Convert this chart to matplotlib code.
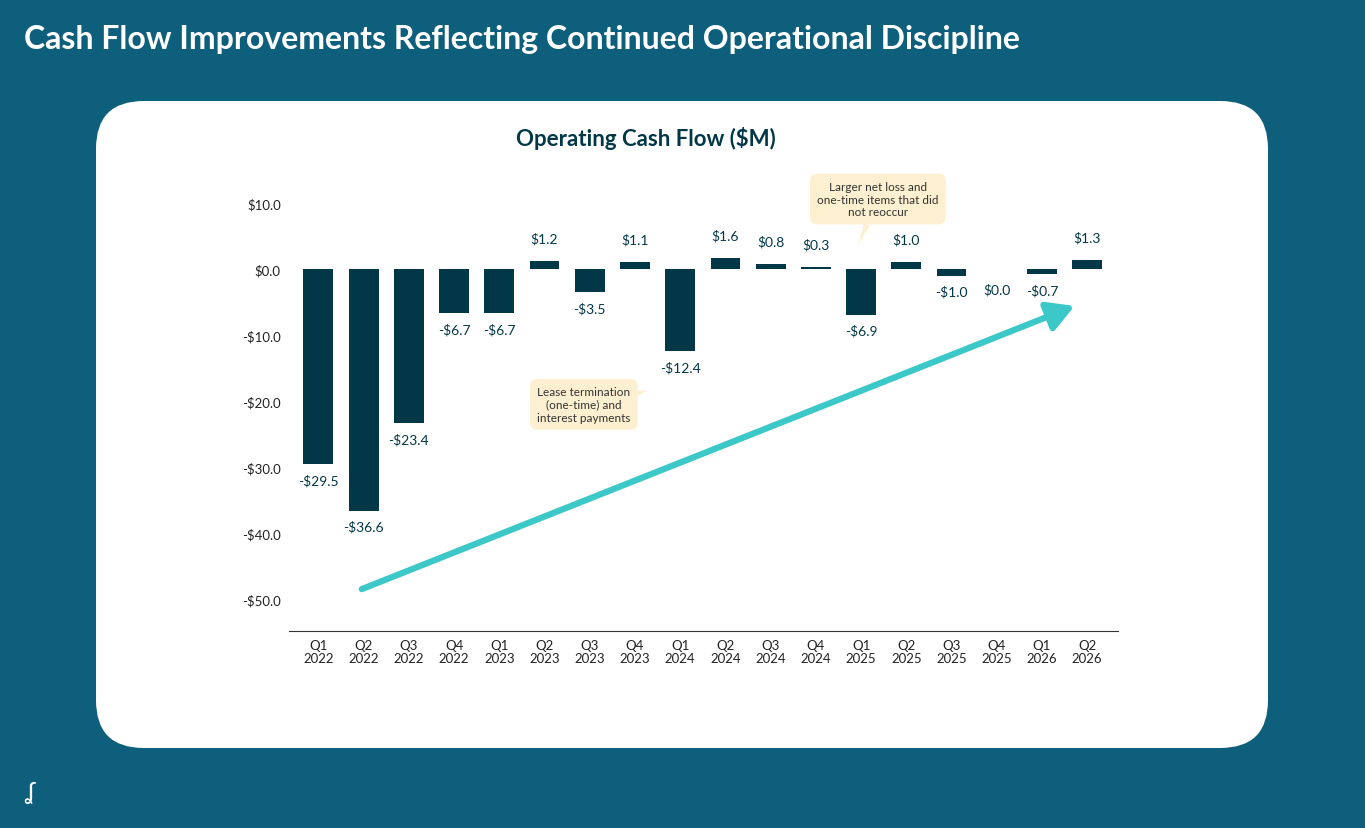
import matplotlib.pyplot as plt
from matplotlib.patches import FancyBboxPatch

quarters = ["Q1\n2022", "Q2\n2022", "Q3\n2022", "Q4\n2022", "Q1\n2023", "Q2\n2023",
            "Q3\n2023", "Q4\n2023", "Q1\n2024", "Q2\n2024", "Q3\n2024", "Q4\n2024",
            "Q1\n2025", "Q2\n2025", "Q3\n2025", "Q4\n2025", "Q1\n2026", "Q2\n2026"]
values = [-29.5, -36.6, -23.4, -6.7, -6.7, 1.2, -3.5, 1.1, -12.4, 1.6, 0.8, 0.3,
          -6.9, 1.0, -1.0, 0.0, -0.7, 1.3]
yticks = [10, 0, -10, -20, -30, -40, -50]

bg = "#0e5f7b"
dark = "#023747"
plt.rcParams['font.family'] = ['Lato', 'DejaVu Sans']

fig = plt.figure(figsize=(13.65, 8.29), dpi=100, facecolor=bg)
fig.text(24/1365, 1 - 40/829, "Cash Flow Improvements Reflecting Continued Operational Discipline",
         color="white", fontsize=23, fontweight="bold", va="center")
card = FancyBboxPatch((96/1365, 1 - 749/829), (1268-96)/1365, (749-102)/829,
                      boxstyle="round,pad=0,rounding_size=0.035", transform=fig.transFigure,
                      facecolor="white", edgecolor="none", mutation_aspect=1365/829, zorder=-5)
fig.patches.append(card)
fig.text(646/1365, 1 - 138/829, "Operating Cash Flow ($M)", color=dark, fontsize=16,
         fontweight="bold", ha="center", va="center")
fig.text(30/1365, 1 - 793/829, "ʆ", color="white", fontsize=18, ha="center", va="center")

# axes: y=0 at px 270, 6.6 px per unit
ylo, yhi = -54.85, 15
ax = fig.add_axes([289/1365, 1 - 632/829, (1118-289)/1365, (yhi - ylo) * 6.6 / 829])
ax.set_facecolor("none")
x = list(range(len(values)))
ax.bar(x, values, width=0.66, color=dark)
ax.set_xlim(-0.65, 17.68)
ax.set_ylim(ylo, yhi)
ax.set_xticks(x)
ax.set_xticklabels(quarters, fontsize=9.5, color="#222222", linespacing=1.1)
ax.set_yticks(yticks)
ax.set_yticklabels(["$%.1f" % v if v >= 0 else "-$%.1f" % -v for v in yticks],
                   fontsize=9.5, color="#222222")
ax.tick_params(length=0, pad=6)
for s in ["top", "right", "left"]:
    ax.spines[s].set_visible(False)
ax.spines["bottom"].set_color("#333333")

for xi, v in zip(x, values):
    lab = "$%.1f" % v if v >= 0 else "-$%.1f" % -v
    if v > 0 or (v == 0):
        y = v + 2.5 if v > 0 else -3
        ax.text(xi, y, lab, ha="center", va="bottom" if v > 0 else "center",
                fontsize=10, color=dark)
    else:
        ax.text(xi, v - 1.5, lab, ha="center", va="top", fontsize=10, color=dark)

ax.annotate("", xy=(16.72, -5.6), xytext=(0.96, -48.5),
            arrowprops=dict(arrowstyle="-|>,head_length=1.6,head_width=0.9",
                            color="#3cc8c8", lw=4.5, shrinkA=0, shrinkB=0))

box = dict(boxstyle="round,pad=0.6,rounding_size=0.6", facecolor="#fdf0d0", edgecolor="none")
ax.annotate("Lease termination\n(one-time) and\ninterest payments", xy=(7.25, -18.5),
            xytext=(5.87, -20.5), ha="center", va="center", fontsize=8.5, color="#333333",
            bbox=box, arrowprops=dict(arrowstyle="wedge,tail_width=0.5", fc="#fdf0d0",
                                      ec="none", shrinkA=0, shrinkB=0))
ax.annotate("Larger net loss and\none-time items that did\nnot reoccur", xy=(11.93, 3.6),
            xytext=(12.37, 10.6), ha="center", va="center", fontsize=8.5, color="#333333",
            bbox=box, arrowprops=dict(arrowstyle="wedge,tail_width=0.5", fc="#fdf0d0",
                                      ec="none", shrinkA=0, shrinkB=0))

fig.savefig("out.png", dpi=100, facecolor=bg)
